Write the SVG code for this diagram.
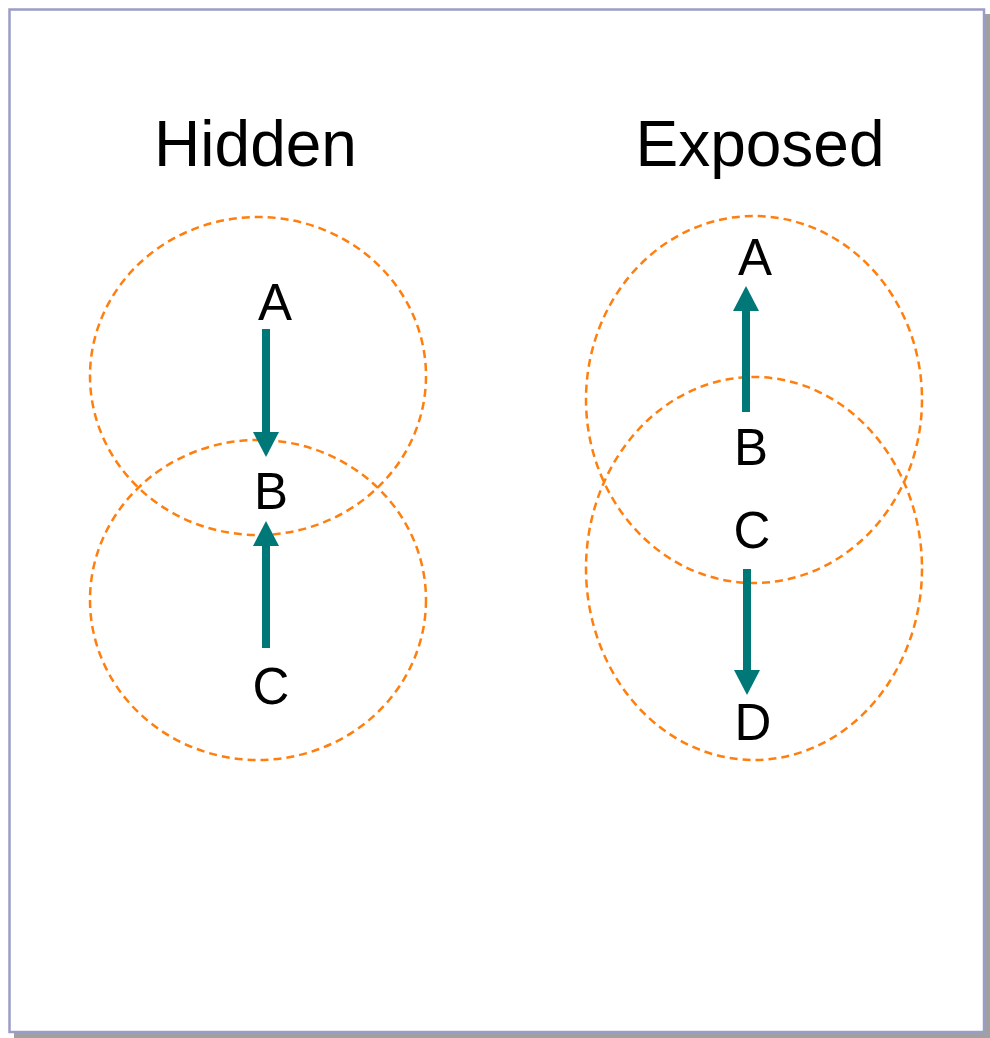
<svg xmlns="http://www.w3.org/2000/svg" width="990" height="1038" viewBox="0 0 990 1038">
  <style>
    .title { font-family: "Liberation Sans", Arial, sans-serif; font-size: 64px; fill: #000; text-anchor: middle; }
    .lbl { font-family: "Liberation Sans", Arial, sans-serif; font-size: 51px; fill: #000; text-anchor: middle; }
    .range { fill: none; stroke: #ff7f0e; stroke-width: 2.5; stroke-dasharray: 8 5; }
    .arrow { fill: none; stroke: #007878; stroke-width: 8; marker-end: url(#head); }
  </style>
  <defs>
    <marker id="head" markerUnits="userSpaceOnUse" markerWidth="26" markerHeight="26" viewBox="0 0 24 25" refX="1" refY="12.5" orient="auto">
      <path d="M0,0 L24,12.5 L0,25 Z" fill="#007878"/>
    </marker>
  </defs>
  <rect x="14" y="14" width="976" height="1024" fill="#a0a0a0"/>
  <rect x="9.5" y="9.5" width="974.5" height="1022.5" fill="#ffffff" stroke="#9c9cc8" stroke-width="2.5"/>

  <g id="title-hidden"><text class="title" x="255.5" y="166">Hidden</text></g>
  <g id="title-exposed"><text class="title" x="760" y="166">Exposed</text></g>

  <g id="ranges">
    <ellipse id="range-left-top" class="range" cx="258" cy="376" rx="168" ry="159"/>
    <ellipse id="range-left-bottom" class="range" cx="258" cy="600" rx="168" ry="160"/>
    <ellipse id="range-right-top" class="range" cx="754" cy="399.5" rx="168" ry="183.5"/>
    <ellipse id="range-right-bottom" class="range" cx="754" cy="568.5" rx="168" ry="191.5"/>
  </g>

  <g id="connectors">
    <path class="arrow" d="M266,329 L266,433"/>
    <path class="arrow" d="M266,648 L266,545"/>
    <path class="arrow" d="M746,412 L746,310"/>
    <path class="arrow" d="M747,569 L747,671"/>
  </g>

  <g id="node-hidden-A"><text class="lbl" x="275" y="320">A</text></g>
  <g id="node-hidden-B"><text class="lbl" x="271" y="509">B</text></g>
  <g id="node-hidden-C"><text class="lbl" x="271" y="704">C</text></g>
  <g id="node-exposed-A"><text class="lbl" x="755" y="275">A</text></g>
  <g id="node-exposed-B"><text class="lbl" x="751" y="465">B</text></g>
  <g id="node-exposed-C"><text class="lbl" x="752" y="548">C</text></g>
  <g id="node-exposed-D"><text class="lbl" x="753" y="740">D</text></g>
</svg>
